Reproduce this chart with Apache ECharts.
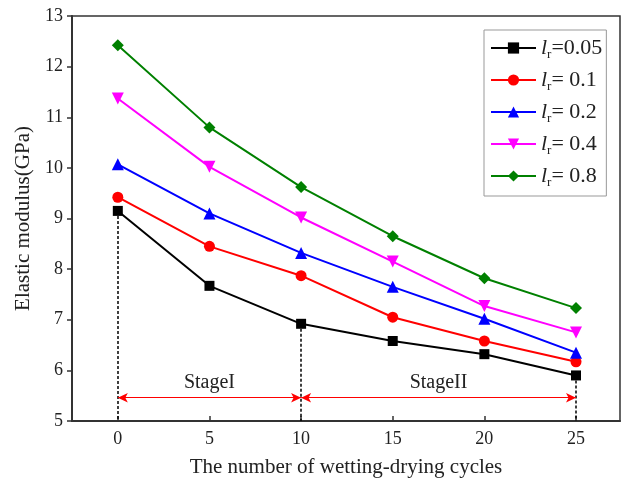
<!DOCTYPE html>
<html>
<head>
<meta charset="utf-8">
<script src="https://cdn.jsdelivr.net/npm/echarts@6/dist/echarts.min.js"></script>
<style>
  html, body { margin: 0; padding: 0; background: #fff; }
</style>
</head>
<body>
<div id="main" style="width: 623px; height: 483px"></div>
<script>
// 数据
const cycles = [0, 5, 10, 15, 20, 25];
const lrLabels = ["=0.05", "= 0.1", "= 0.2", "= 0.4", "= 0.8"];
const lr005 = [9.15, 7.67, 6.92, 6.58, 6.32, 5.9];
const lr01 = [9.42, 8.45, 7.87, 7.05, 6.58, 6.17];
const lr02 = [10.07, 9.1, 8.32, 7.65, 7.02, 6.35];
const lr04 = [11.37, 10.02, 9.02, 8.15, 7.27, 6.75];
const lr08 = [12.42, 10.8, 9.62, 8.65, 7.82, 7.23];
const xTicks = [0, 5, 10, 15, 20, 25];
const stageBounds = [0, 10, 25];
const stageNames = ["StageI", "StageII"];
const stageArrowY = 5.46;

const colors = ["#000000", "#ff0000", "#0000ff", "#ff00ff", "#008000"];
const symbols = ["rect", "circle", "triangle", "path://M0,0 L10,0 L5,9 Z", "diamond"];
const symbolSizes = [10, 11, 12, 12, 12];
const allData = [lr005, lr01, lr02, lr04, lr08];

const font = "Liberation Serif, Times New Roman, serif";

let myChart = echarts.init(document.getElementById("main"));

let series = allData.map((vals, i) => ({
  name: "lr" + lrLabels[i],
  type: "line",
  data: cycles.map((c, j) => [c, vals[j]]),
  symbol: symbols[i],
  symbolSize: symbolSizes[i],
  color: colors[i],
  lineStyle: { width: 2, color: colors[i] },
  itemStyle: { color: colors[i] },
  z: 5
}));

// 虚线 (dashed verticals down from the black series)
series[0].markLine = {
  silent: true,
  symbol: ["none", "none"],
  lineStyle: { type: [3, 2], color: "#000", width: 1.5 },
  label: { show: false },
  data: stageBounds.map(b => [
    { coord: [b, lr005[cycles.indexOf(b)]] },
    { coord: [b, 5] }
  ])
};

// 阶段箭头
series.push({
  name: "stage",
  type: "line",
  data: [],
  markLine: {
    silent: true,
    symbol: ["arrow", "arrow"],
    symbolSize: [7, 10],
    lineStyle: { type: "solid", color: "#ff0000", width: 1 },
    label: {
      show: true,
      position: "insideMiddleTop",
      distance: 5,
      color: "#222",
      fontFamily: font,
      fontSize: 20,
      formatter: p => p.name
    },
    data: stageNames.map((n, k) => [
      { name: n, coord: [stageBounds[k], stageArrowY] },
      { coord: [stageBounds[k + 1], stageArrowY] }
    ])
  }
});

let option = {
  animation: false,
  grid: {
    left: 72,
    top: 16,
    width: 548,
    height: 406,
    show: true,
    borderColor: "#333",
    borderWidth: 1.5
  },
  legend: {
    data: series.slice(0, 5).map(s => s.name),
    orient: "vertical",
    left: 484,
    top: 30,
    itemWidth: 45,
    itemHeight: 14,
    itemGap: 8,
    padding: [7, 4, 7, 6],
    borderColor: "#999",
    borderWidth: 1,
    backgroundColor: "#fff",
    formatter: name => "{i|l}{s|r}{t|" + name.slice(2) + "}",
    textStyle: {
      fontFamily: font,
      rich: {
        i: { fontSize: 22, fontStyle: "italic", fontFamily: font, color: "#222" },
        s: { fontSize: 13, fontFamily: font, color: "#222", padding: [13, 0, 0, 0] },
        t: { fontSize: 22, fontFamily: font, color: "#222" }
      }
    }
  },
  xAxis: {
    type: "value",
    min: -2.5,
    max: 27.4,
    name: "The number of wetting-drying cycles",
    nameLocation: "middle",
    nameGap: 36,
    nameTextStyle: { fontFamily: font, fontSize: 21, color: "#222" },
    splitLine: { show: false },
    axisLine: { onZero: false, lineStyle: { color: "#333", width: 2 } },
    axisTick: { inside: true, length: 5, customValues: xTicks, lineStyle: { color: "#333", width: 1.5 } },
    axisLabel: { customValues: xTicks, fontFamily: font, fontSize: 18, color: "#222", margin: 9 }
  },
  yAxis: {
    type: "value",
    min: 5,
    max: 13,
    interval: 1,
    name: "Elastic modulus(GPa)",
    nameLocation: "middle",
    nameGap: 34,
    nameTextStyle: { fontFamily: font, fontSize: 21, color: "#222" },
    splitLine: { show: false },
    axisLine: { onZero: false, lineStyle: { color: "#333", width: 2 } },
    axisTick: { inside: false, length: 5, lineStyle: { color: "#333", width: 1.5 } },
    axisLabel: { fontFamily: font, fontSize: 18, color: "#222", margin: 9 }
  },
  series: series
};

myChart.setOption(option);
</script>
</body>
</html>
